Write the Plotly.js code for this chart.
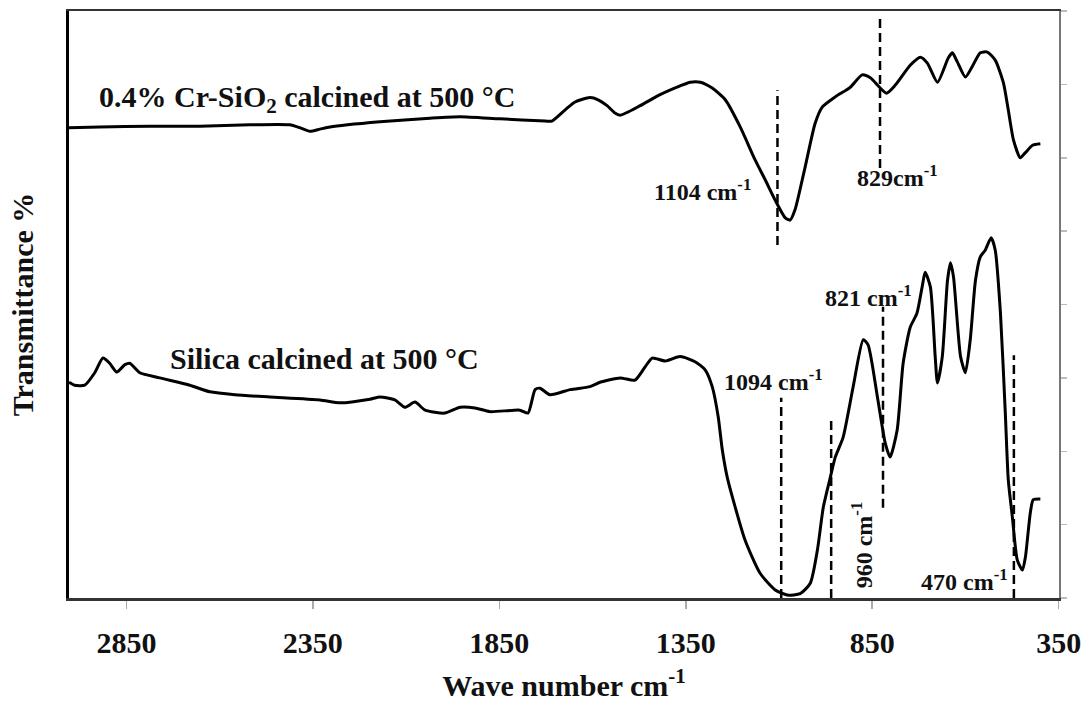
<!DOCTYPE html>
<html>
<head>
<meta charset="utf-8">
<script src="https://cdn.plot.ly/plotly-3.0.1.min.js"></script>
<style>
  html, body { margin: 0; padding: 0; background: #fff; }
  #chart { width: 1091px; height: 702px; }
</style>
</head>
<body>
<div id="chart"></div>
<script>
// FTIR spectra: wavenumber (cm-1) and relative transmittance (offset, arbitrary units)
const wavenumberCr = [3004, 2922, 2787, 2653, 2519, 2412, 2385, 2358, 2331, 2304, 2170, 2036, 1955, 1848,
  1727, 1709, 1674, 1647, 1607, 1585, 1561, 1540, 1526, 1472, 1419, 1365, 1338, 1311, 1279, 1244, 1204,
  1164, 1137, 1110, 1083, 1070, 1057, 1030, 1003, 984, 949, 909, 877, 855, 812, 788, 748, 721, 702, 675,
  646, 635, 622, 600, 582, 560, 541, 520, 498, 485, 471, 453, 439, 420, 399];
const transmittanceCr = [64.1, 64.2, 64.3, 64.3, 64.5, 64.5, 64.1, 63.6, 63.9, 64.2, 64.9, 65.4, 65.6, 65.3,
  65.0, 65.0, 66.5, 67.6, 68.2, 67.9, 67.1, 66.1, 65.8, 67.1, 68.6, 69.8, 70.3, 70.3, 69.5, 67.9, 64.2,
  59.7, 57.0, 54.2, 51.8, 51.5, 52.9, 58.7, 64.7, 66.9, 68.3, 69.6, 71.3, 70.9, 68.8, 69.9, 72.6, 73.7,
  72.9, 70.3, 73.6, 74.3, 73.1, 71.0, 72.4, 74.3, 74.4, 73.3, 70.2, 66.5, 62.4, 60.0, 60.7, 61.7, 61.9];

const wavenumberSilica = [3004, 2989, 2962, 2935, 2913, 2895, 2876, 2854, 2841, 2814, 2761, 2680, 2626, 2559,
  2465, 2331, 2277, 2197, 2170, 2130, 2103, 2076, 2049, 1996, 1955, 1915, 1875, 1795, 1773, 1754, 1741,
  1714, 1660, 1607, 1580, 1526, 1486, 1459, 1440, 1405, 1365, 1325, 1298, 1279, 1263, 1252, 1239, 1223,
  1191, 1151, 1110, 1078, 1043, 1016, 997, 981, 962, 949, 928, 901, 874, 861, 836, 815, 802, 783, 767,
  748, 730, 716, 708, 694, 681, 675, 662, 648, 640, 632, 613, 600, 587, 573, 560, 547, 531, 520, 506,
  493, 485, 474, 461, 447, 439, 426, 418, 399];
const transmittanceSilica = [29.4, 29.0, 29.0, 30.7, 32.7, 32.0, 30.8, 31.8, 32.0, 30.7, 30.0, 29.0, 28.1, 27.7,
  27.4, 27.0, 26.6, 27.1, 27.4, 27.0, 26.0, 26.7, 25.6, 25.2, 26.0, 25.9, 25.4, 25.6, 25.2, 28.4, 28.6,
  27.7, 28.4, 28.8, 29.4, 30.0, 29.7, 31.5, 32.7, 32.3, 32.9, 32.2, 31.1, 28.8, 24.7, 20.2, 16.5, 13.4,
  7.9, 3.4, 1.1, 0.4, 0.6, 2.0, 6.5, 12.4, 16.5, 19.2, 21.9, 28.8, 35.2, 34.5, 27.4, 21.1, 19.2, 22.9, 32.0,
  36.9, 38.8, 42.4, 44.4, 42.4, 32.9, 29.3, 32.9, 43.3, 45.7, 43.8, 32.9, 30.7, 35.2, 43.3, 46.5, 47.4, 49.1,
  47.4, 38.8, 25.2, 16.1, 11.0, 5.2, 3.8, 5.6, 11.6, 13.4, 13.5];

const xTickValues = [2850, 2350, 1850, 1350, 850, 350];

// Assigned bands: wavenumber and label text
const bandWavenumbers = [1104, 829, 1094, 960, 821, 470];
const bandLabels = ['1104 cm<sup>-1</sup>', '829cm<sup>-1</sup>', '1094 cm<sup>-1</sup>',
  '960 cm<sup>-1</sup>', '821 cm<sup>-1</sup>', '470 cm<sup>-1</sup>'];

// Vertical extent of each band marker and label placement (same order as bandWavenumbers)
const markerSpans = [[48.1, 69.2], [58.6, 79.5], [0, 27.3], [0, 24.7], [12.3, 39.7], [0, 33.1]];
const labelSpots = [
  {x: 1306, y: 55.6, angle: 0},
  {x: 783, y: 57.5, angle: 0},
  {x: 1115, y: 29.7, angle: 0},
  {x: 877, y: 7.2, angle: -90},
  {x: 861, y: 41.1, angle: 0},
  {x: 603, y: 2.5, angle: 0}
];

const serif = 'Liberation Serif, Times New Roman, serif';
const ink = '#111';

const spectrumLine = {color: '#000', width: 3, shape: 'spline', smoothing: 0.6};

const traces = [
  {x: wavenumberCr, y: transmittanceCr, mode: 'lines', line: spectrumLine,
   hoverinfo: 'skip', showlegend: false, xaxis: 'x', yaxis: 'y'},
  {x: wavenumberSilica, y: transmittanceSilica, mode: 'lines', line: spectrumLine,
   hoverinfo: 'skip', showlegend: false, xaxis: 'x', yaxis: 'y2'}
];

const shapes = bandWavenumbers.map((wn, i) => ({
  type: 'line', xref: 'x', yref: 'y',
  x0: wn, x1: wn, y0: markerSpans[i][0], y1: markerSpans[i][1],
  line: {color: '#000', width: 2.5, dash: '9px,5px'}
}));

const annotations = bandWavenumbers.map((wn, i) => ({
  xref: 'x', yref: 'y', x: labelSpots[i].x, y: labelSpots[i].y,
  text: bandLabels[i], textangle: labelSpots[i].angle, showarrow: false,
  xanchor: 'center', yanchor: 'middle',
  font: {family: serif, size: 24, color: ink, weight: 'bold'}
}));

annotations.push({
  xref: 'x', yref: 'y', x: 2366, y: 68.0,
  text: '0.4% Cr-SiO<sub>2</sub> calcined at 500 °C', showarrow: false,
  xanchor: 'center', yanchor: 'middle',
  font: {family: serif, size: 30, color: ink, weight: 'bold'}
});
annotations.push({
  xref: 'x', yref: 'y', x: 2320, y: 32.6,
  text: 'Silica calcined at 500 °C', showarrow: false,
  xanchor: 'center', yanchor: 'middle',
  font: {family: serif, size: 30, color: ink, weight: 'bold'}
});

const layout = {
  width: 1091, height: 702,
  margin: {l: 69, r: 32, t: 11, b: 104},
  paper_bgcolor: '#fff', plot_bgcolor: '#fff',
  font: {family: serif, color: ink},
  xaxis: {
    range: [3004, 349], tickvals: xTickValues, ticktext: xTickValues.map(String),
    showgrid: false, zeroline: false,
    showline: true, linecolor: '#333', linewidth: 2.5, mirror: true,
    ticks: 'outside', ticklen: 8, tickwidth: 1.5, tickcolor: '#aaa',
    ticklabelstandoff: 8,
    tickfont: {family: serif, size: 30, color: ink, weight: 'bold'},
    title: {text: 'Wave number cm<sup>-1</sup>', standoff: 26,
            font: {family: serif, size: 30, color: ink, weight: 'bold'}}
  },
  yaxis: {
    range: [0, 80], showgrid: false, zeroline: false,
    showline: true, linecolor: '#000', linewidth: 3,
    ticks: '', showticklabels: false,
    title: {text: 'Transmittance %', standoff: 24,
            font: {family: serif, size: 30, color: ink, weight: 'bold'}}
  },
  yaxis2: {
    range: [0, 80], overlaying: 'y', side: 'right', anchor: 'x',
    showgrid: false, zeroline: false,
    showline: true, linecolor: '#777', linewidth: 2,
    ticks: 'outside', ticklen: 6, tickwidth: 1.5, tickcolor: '#bbb',
    dtick: 10, tick0: 0, showticklabels: false
  },
  shapes: shapes,
  annotations: annotations
};

Plotly.newPlot('chart', traces, layout, {displayModeBar: false, staticPlot: true});
</script>
</body>
</html>
